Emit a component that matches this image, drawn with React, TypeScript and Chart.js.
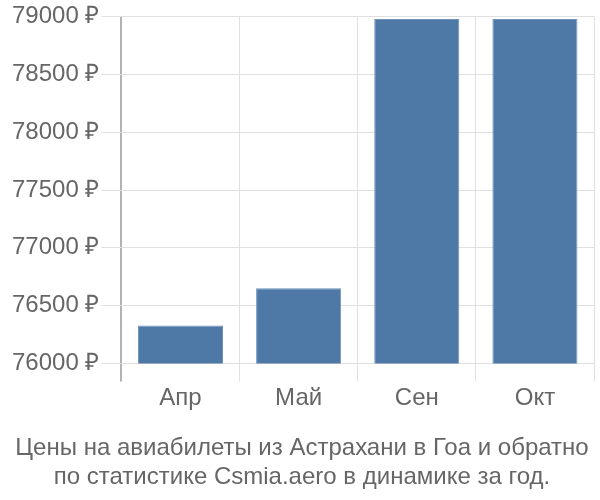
import React, { useEffect, useRef } from "react";
import { Chart, registerables } from "chart.js";

Chart.register(...registerables);

const categories = ["Апр", "Май", "Сен", "Окт"];
const prices = [76330, 76650, 78978, 78978];
const yMin = 76000;
const yMax = 79000;
const yStep = 500;
const titleLines = [
  "Цены на авиабилеты из Астрахани в Гоа и обратно",
  "по статистике Csmia.aero в динамике за год.",
];

export default function App() {
  const ref = useRef<HTMLCanvasElement | null>(null);
  useEffect(() => {
    if (!ref.current) return;
    const font = { family: "'Liberation Sans', Arial, sans-serif", size: 24 };
    const chart = new Chart(ref.current, {
      type: "bar",
      data: {
        labels: categories,
        datasets: [
          {
            data: prices,
            backgroundColor: "#4e79a7",
            borderColor: "#6f93bd",
            borderWidth: 1,
            barPercentage: 0.9,
            categoryPercentage: 0.8,
          },
        ],
      },
      options: {
        responsive: false,
        animation: false,
        layout: { padding: { left: 10, right: 6, top: 1, bottom: 8 } },
        plugins: {
          legend: { display: false },
          tooltip: { enabled: false },
          title: {
            display: true,
            position: "bottom",
            text: titleLines,
            color: "#666",
            font: { ...font, weight: "normal" },
            lineHeight: 1.08,
            padding: { top: 20, bottom: 0 },
          },
        },
        scales: {
          x: {
            border: { display: false },
            grid: {
              color: (ctx: any) => (ctx.index === 0 ? "#b3b3b3" : "#e0e0e0"),
              lineWidth: (ctx: any) => (ctx.index === 0 ? 2 : 1),
              tickLength: 18,
              offset: true,
            },
            ticks: { color: "#666", font, padding: 2 },
          },
          y: {
            min: yMin,
            max: yMax,
            border: { display: false },
            grid: { color: "#e0e0e0", tickLength: 20 },
            ticks: {
              stepSize: yStep,
              color: "#666",
              font,
              padding: 2,
              callback: (v: any) => `${v} ₽`,
            },
          },
        },
      },
    });
    return () => chart.destroy();
  }, []);
  return (
    <div style={{ position: "fixed", left: 0, top: 0, width: 600, height: 500, background: "#fff" }}>
      <canvas ref={ref} width={600} height={500} />
    </div>
  );
}
